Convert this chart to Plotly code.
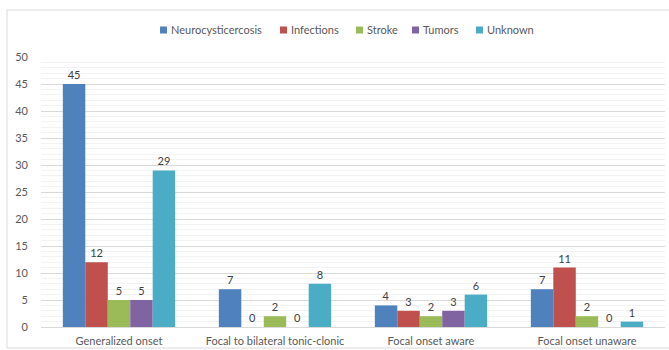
import plotly.graph_objects as go

categories = ["Generalized onset", "Focal to bilateral tonic-clonic",
              "Focal onset aware", "Focal onset unaware"]
series_names = ["Neurocysticercosis", "Infections", "Stroke", "Tumors", "Unknown"]
neurocysticercosis = [45, 7, 4, 7]
infections = [12, 0, 3, 11]
stroke = [5, 2, 2, 2]
tumors = [5, 0, 3, 0]
unknown = [29, 8, 6, 1]
y_ticks = [0, 5, 10, 15, 20, 25, 30, 35, 40, 45, 50]

series_values = [neurocysticercosis, infections, stroke, tumors, unknown]
colors = ["#4F81BD", "#C0504D", "#9BBB59", "#8064A2", "#4BACC6"]

W, H = 669, 350
ML, MR, MT, MB = 41, 4, 57, 23
FONT = "Lato"
TXT = "#595959"

fig = go.Figure()
for name, vals, col in zip(series_names, series_values, colors):
    fig.add_trace(go.Bar(
        name=name, x=categories, y=vals, marker_color=col,
        marker_line_width=0,
        text=[str(v) for v in vals], textposition="outside",
        textfont=dict(family=FONT, size=11, color="#404040"),
        cliponaxis=False, showlegend=False,
    ))

pw = W - ML - MR
ph = H - MT - MB


def px_x(x):
    return (x - ML) / pw


def px_y(y):
    return (H - MB - y) / ph


# chart frame
fig.add_shape(type="rect", xref="paper", yref="paper",
              x0=px_x(7), x1=px_x(W + 10), y0=px_y(H - 2), y1=px_y(10),
              line=dict(color="#d9d9d9", width=1), fillcolor="rgba(0,0,0,0)",
              layer="below")

# legend row: small colour swatch followed by the series name
legend_x = [163, 283, 359, 415, 479]
legend_y = 30
for name, col, lx in zip(series_names, colors, legend_x):
    fig.add_shape(type="rect", xref="paper", yref="paper",
                  x0=px_x(lx - 3), x1=px_x(lx + 4),
                  y0=px_y(legend_y + 3.5), y1=px_y(legend_y - 3.5),
                  line=dict(width=0), fillcolor=col)
    fig.add_annotation(xref="paper", yref="paper", x=px_x(lx + 6), y=px_y(legend_y),
                       xanchor="left", yanchor="middle", text=name, showarrow=False,
                       font=dict(family=FONT, size=11, color=TXT))

fig.update_layout(
    width=W, height=H,
    margin=dict(l=ML, r=MR, t=MT, b=MB, autoexpand=False),
    paper_bgcolor="white", plot_bgcolor="white",
    barmode="group", bargap=0.28, bargroupgap=0,
    font=dict(family=FONT, size=11, color=TXT),
    showlegend=False,
    yaxis=dict(range=[0, 50], tickvals=y_ticks, showgrid=True,
               gridcolor="#d9d9d9", gridwidth=1, zeroline=False,
               ticklabelstandoff=12,
               tickfont=dict(family=FONT, size=11, color=TXT),
               minor=dict(dtick=1, showgrid=True, gridcolor="#f3f3f3", gridwidth=1)),
    xaxis=dict(showline=True, linecolor="#d9d9d9", linewidth=1,
               tickfont=dict(family=FONT, size=11, color=TXT),
               ticklabelstandoff=4),
)

fig.write_html("out.html")
